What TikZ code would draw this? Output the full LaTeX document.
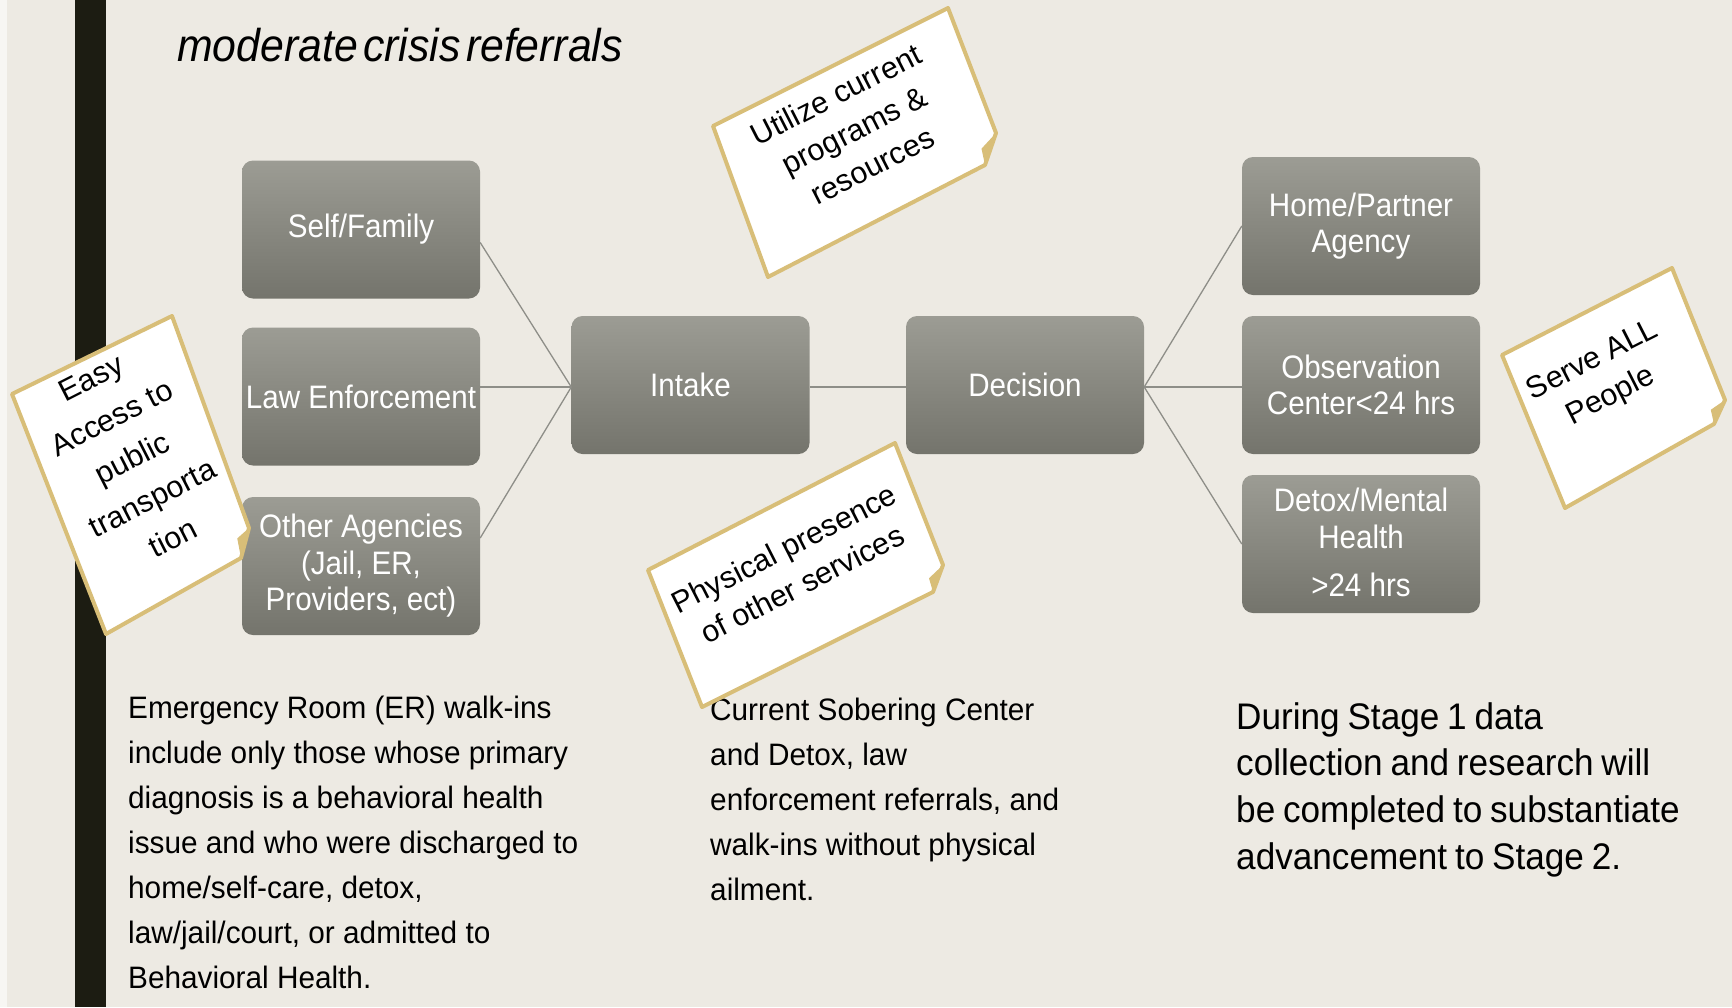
\documentclass[tikz,border=0pt]{standalone}
\usepackage{fontspec}
\setmainfont{Liberation Sans}
\newfontfamily\boxfont[FakeStretch=0.91]{Liberation Sans}
\newfontfamily\bodyfont[FakeStretch=0.96]{Liberation Sans}
\newfontfamily\rightfont[FakeStretch=0.95,WordSpace=0.8]{Liberation Sans}
\newfontfamily\titlefont[FakeStretch=0.93,WordSpace=0.45]{Liberation Sans}
\usetikzlibrary{calc}
\definecolor{bg}{HTML}{EDEAE3}
\definecolor{barc}{HTML}{1C1C12}
\definecolor{boxtop}{HTML}{9C9C94}
\definecolor{boxbot}{HTML}{74746C}
\definecolor{linec}{HTML}{8E8E88}
\definecolor{tanc}{HTML}{D8BE78}
\begin{document}
\begin{tikzpicture}[x=1pt,y=-1pt,
  gbox/.style={rounded corners=11pt, top color=boxtop, bottom color=boxbot, draw=none,
    minimum width=238pt, minimum height=138pt, text=white,
    font=\boxfont\fontsize{32.5}{36.5}\selectfont, align=center, inner sep=0pt},
  conn/.style={draw=linec, line width=1.3pt},
  notebox/.style={fill=white, draw=tanc, line width=4pt, line join=round},
  notetext/.style={font=\fontsize{30.5}{40}\selectfont, align=center, rotate=27, inner sep=0pt},
  bodytext/.style={anchor=base west, inner sep=0pt}
]
\useasboundingbox (0,0) rectangle (1732,1007);
\fill[bg] (0,0) rectangle (1732,1007);
\fill[white!55!bg] (0,0) rectangle (7,1007);
\fill[barc] (75,0) rectangle (106,1007);

% title
\node[bodytext] (title) at (177,61) {\titlefont\itshape\fontsize{46}{50}\selectfont moderate crisis referrals};

% boxes
\node[gbox] (self) at (361,229.5) {Self/Family};
\node[gbox] (law) at (361,396.5) {Law Enforcement};
\node[gbox] (other) at (361,566) {Other Agencies\\(Jail, ER,\\Providers, ect)};
\node[gbox] (intake) at (690.5,385) {Intake};
\node[gbox] (decision) at (1025,385) {Decision};
\node[gbox] (home) at (1361,226) {Home/Partner\\Agency};
\node[gbox] (obs) at (1361,385) {Observation\\Center<24 hrs};
\node[gbox] (detox) at (1361,544) {Detox/Mental\\Health\\[12pt]>24 hrs\\[-33pt]\mbox{}};

% connectors
\draw[conn] ([yshift=-13pt]self.east) -- ([yshift=-2pt]intake.west);
\draw[conn] ([yshift=9.5pt]law.east) -- ([yshift=-2pt]intake.west);
\draw[conn] ([yshift=28pt]other.east) -- ([yshift=-2pt]intake.west);
\draw[conn] ([yshift=-2pt]intake.east) -- ([yshift=-2pt]decision.west);
\draw[conn] ([yshift=-2pt]decision.east) -- (home.west);
\draw[conn] ([yshift=-2pt]decision.east) -- ([yshift=-2pt]obs.west);
\draw[conn] ([yshift=-2pt]decision.east) -- (detox.west);

% body texts
\node[bodytext] (leftnote) at (128,718) {\bodyfont\fontsize{31}{45}\selectfont
  \begin{tabular}[t]{@{}l@{}}
  Emergency Room (ER) walk-ins\\
  include only those whose primary\\
  diagnosis is a behavioral health\\
  issue and who were discharged to\\
  home/self-care, detox,\\
  law/jail/court, or admitted to\\
  Behavioral Health.
  \end{tabular}};
\node[bodytext] (midnote) at (710,720) {\bodyfont\fontsize{31}{45}\selectfont
  \begin{tabular}[t]{@{}l@{}}
  Current Sobering Center\\
  and Detox, law\\
  enforcement referrals, and\\
  walk-ins without physical\\
  ailment.
  \end{tabular}};
\node[bodytext] (rightnote) at (1236,729) {\rightfont\fontsize{37}{46.7}\selectfont
  \begin{tabular}[t]{@{}l@{}}
  During Stage 1 data\\
  collection and research will\\
  be completed to substantiate\\
  advancement to Stage 2.
  \end{tabular}};

% sticky notes
% A
\coordinate (aTL) at (12,394); \coordinate (aTR) at (172,316);
\coordinate (aRF) at (249,528); \coordinate (aBR) at (241,558);
\coordinate (aBL) at (106,634); \coordinate (aC) at (133,476);
\draw[notebox] (aTL) -- (aTR) -- (aRF) -- (aBR) -- (aBL) -- cycle;
\coordinate (aM) at ($(aRF)!0.5!(aBR)$);
\fill[tanc] (aRF) -- (aBR) -- ($(aM)!9pt!(aC)$) -- cycle;
\node[notetext,font=\fontsize{30.5}{45}\selectfont] (ta) at (132,458) {Easy\\Access to\\public\\transporta\\tion};
% B
\coordinate (bTL) at (713,126); \coordinate (bTR) at (948,8);
\coordinate (bRF) at (996,133); \coordinate (bBR) at (985,165);
\coordinate (bBL) at (768,277); \coordinate (bC) at (853,144);
\draw[notebox] (bTL) -- (bTR) -- (bRF) -- (bBR) -- (bBL) -- cycle;
\coordinate (bM) at ($(bRF)!0.5!(bBR)$);
\fill[tanc] (bRF) -- (bBR) -- ($(bM)!9pt!(bC)$) -- cycle;
\node[notetext] (tb) at (854,130) {Utilize current\\programs \&\\resources};
% C
\coordinate (cTL) at (648,570); \coordinate (cTR) at (895,443);
\coordinate (cRF) at (943,565); \coordinate (cBR) at (933,592);
\coordinate (cBL) at (702,707); \coordinate (cC) at (795,575);
\draw[notebox] (cTL) -- (cTR) -- (cRF) -- (cBR) -- (cBL) -- cycle;
\coordinate (cM) at ($(cRF)!0.5!(cBR)$);
\fill[tanc] (cRF) -- (cBR) -- ($(cM)!9pt!(cC)$) -- cycle;
\node[notetext] (tc) at (793,566) {Physical presence\\of other services};
% D
\coordinate (dTL) at (1502,355); \coordinate (dTR) at (1672,268);
\coordinate (dRF) at (1725,400); \coordinate (dBR) at (1714,424);
\coordinate (dBL) at (1565,508); \coordinate (dC) at (1614,385);
\draw[notebox] (dTL) -- (dTR) -- (dRF) -- (dBR) -- (dBL) -- cycle;
\coordinate (dM) at ($(dRF)!0.5!(dBR)$);
\fill[tanc] (dRF) -- (dBR) -- ($(dM)!9pt!(dC)$) -- cycle;
\node[notetext] (td) at (1602,379) {Serve ALL\\People};
\end{tikzpicture}
\end{document}
